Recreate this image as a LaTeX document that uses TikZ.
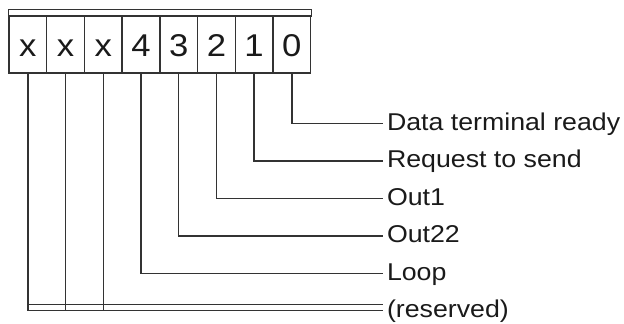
\documentclass[tikz,border=0pt]{standalone}
\usepackage{fontspec}
\setmainfont{Liberation Sans}[FakeStretch=1.1]
\usetikzlibrary{calc}
\definecolor{rule}{HTML}{333333}
\definecolor{ink}{HTML}{1A1A1A}
\begin{document}
\begin{tikzpicture}[x=1pt,y=-1pt,
  wire/.style={draw=rule,line width=1.4pt},
  cell/.style={draw=rule,line width=1.4pt,anchor=north west,inner sep=0pt,
    minimum width=37.71pt,minimum height=56.3pt,text=ink,
    font=\fontsize{31.5}{31.5}\selectfont,text height=22.5pt,text depth=0pt},
  bitlabel/.style={anchor=west,inner xsep=3.5pt,inner ysep=0pt,text=ink,
    font=\fontsize{24.3}{24.3}\selectfont,text height=13.4pt,text depth=0pt}]
\useasboundingbox (0,0) rectangle (624,324);

% register cells, bit 7 on the left
\foreach \name/\txt [count=\i from 0] in {c7/x,c6/x,c5/x,c4/4,c3/3,c2/2,c1/1,c0/0}
  \node[cell] (\name) at (8.3+\i*37.71,16) {\txt};
% strip above the cells
\draw[wire] (c7.north west) rectangle ([yshift=6.7pt]c0.north east);

% bit descriptions
\node[bitlabel] (l0) at (383.3,123.3) {Data terminal ready};
\node[bitlabel] (l1) at (383.3,160.8) {Request to send};
\node[bitlabel] (l2) at (383.3,198.3) {Out1};
\node[bitlabel] (l3) at (383.3,235.8) {Out22};
\node[bitlabel] (l4) at (383.3,273.3) {Loop};
\node[bitlabel] (lr) at (383.3,310.7) {(reserved)};

% leaders from each bit to its description
\foreach \b in {0,...,4}
  \draw[wire] (c\b.south) |- (l\b.west);

% reserved bits share a doubled leader
\coordinate (r1) at ($(lr.west)+(0,-6)$);
\draw[wire] (c7.south) |- (lr.west);
\draw[wire] (c6.south) -- (c6.south |- lr.west);
\draw[wire] (c5.south) -- (c5.south |- lr.west);
\draw[wire] (c7.south |- r1) -- (r1);
\end{tikzpicture}
\end{document}
